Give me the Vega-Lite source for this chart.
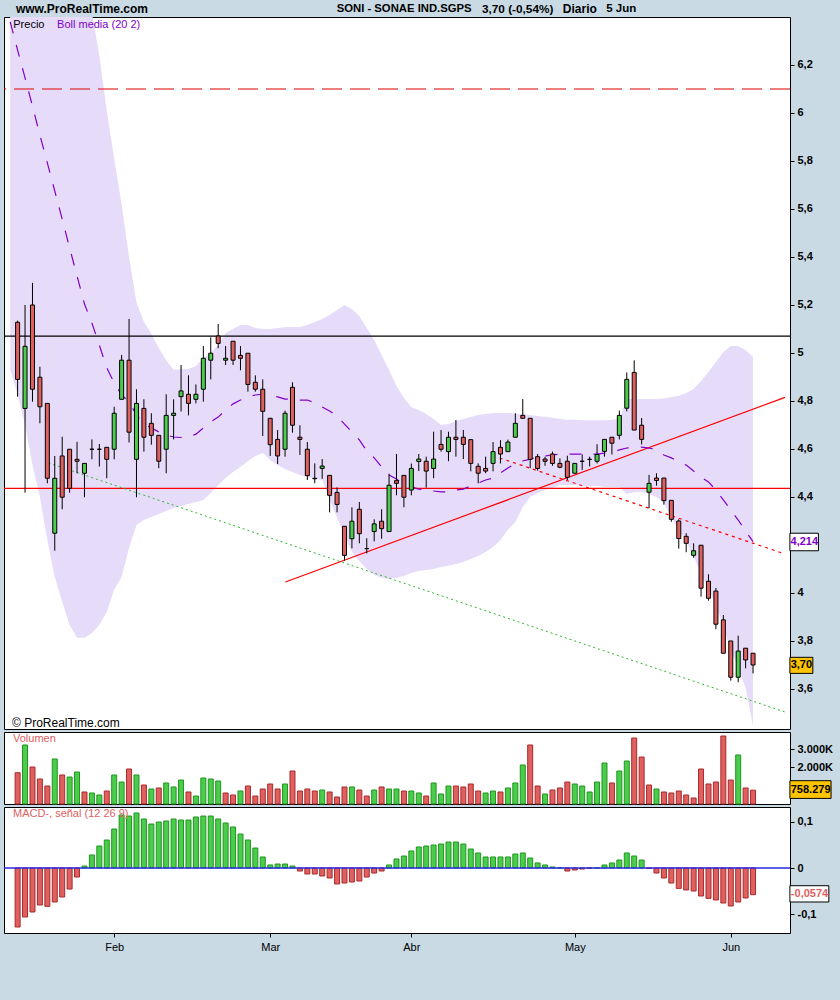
{
"$schema": "https://vega.github.io/schema/vega-lite/v6.json",
"background": "#c9dae4",
"padding": {"left": 2, "top": 2, "right": 8, "bottom": 52},
"spacing": 1,
"config": {
  "view": {"stroke": "#000000", "strokeWidth": 1, "fill": "#ffffff"},
  "axis": {"domain": false, "grid": false, "tickColor": "#000000", "labelColor": "#000000", "labelFont": "Liberation Sans", "labelFontSize": 11, "labelFontWeight": "bold", "tickSize": 4, "labelPadding": 3},
  "text": {"font": "Liberation Sans"}
},
"datasets": {
"bars": [
{"i":0,"o":5.128,"h":5.135,"l":4.818,"c":4.890,"v":1715,"vd":"d","m":-0.1269},
{"i":1,"o":4.769,"h":5.200,"l":4.418,"c":5.028,"v":3233,"vd":"u","m":-0.1054},
{"i":2,"o":5.200,"h":5.292,"l":4.797,"c":4.849,"v":2027,"vd":"d","m":-0.0946},
{"i":3,"o":4.899,"h":4.943,"l":4.707,"c":4.776,"v":1370,"vd":"d","m":-0.0796},
{"i":4,"o":4.790,"h":4.790,"l":4.457,"c":4.478,"v":986,"vd":"d","m":-0.0825},
{"i":5,"o":4.249,"h":4.571,"l":4.176,"c":4.478,"v":2466,"vd":"u","m":-0.0731},
{"i":6,"o":4.571,"h":4.651,"l":4.349,"c":4.399,"v":1589,"vd":"d","m":-0.0624},
{"i":7,"o":4.599,"h":4.599,"l":4.418,"c":4.436,"v":1479,"vd":"u","m":-0.0452},
{"i":8,"o":4.557,"h":4.630,"l":4.499,"c":4.549,"v":1753,"vd":"u","m":-0.0194},
{"i":9,"o":4.499,"h":4.540,"l":4.399,"c":4.540,"v":658,"vd":"d","m":0.0043},
{"i":10,"o":4.599,"h":4.640,"l":4.557,"c":4.599,"v":603,"vd":"u","m":0.0280},
{"i":11,"o":4.599,"h":4.621,"l":4.527,"c":4.599,"v":493,"vd":"u","m":0.0473},
{"i":12,"o":4.607,"h":4.607,"l":4.478,"c":4.557,"v":712,"vd":"d","m":0.0602},
{"i":13,"o":4.599,"h":4.776,"l":4.557,"c":4.749,"v":1589,"vd":"u","m":0.0839},
{"i":14,"o":4.807,"h":4.992,"l":4.807,"c":4.970,"v":1205,"vd":"u","m":0.1140},
{"i":15,"o":4.970,"h":5.142,"l":4.627,"c":4.670,"v":1918,"vd":"d","m":0.1118},
{"i":16,"o":4.557,"h":4.849,"l":4.399,"c":4.790,"v":1589,"vd":"u","m":0.1183},
{"i":17,"o":4.769,"h":4.807,"l":4.589,"c":4.649,"v":1041,"vd":"d","m":0.1054},
{"i":18,"o":4.707,"h":4.749,"l":4.618,"c":4.657,"v":822,"vd":"u","m":0.0946},
{"i":19,"o":4.657,"h":4.657,"l":4.520,"c":4.549,"v":877,"vd":"d","m":0.0989},
{"i":20,"o":4.599,"h":4.828,"l":4.499,"c":4.740,"v":1151,"vd":"u","m":0.1011},
{"i":21,"o":4.740,"h":4.807,"l":4.640,"c":4.749,"v":932,"vd":"u","m":0.1054},
{"i":22,"o":4.818,"h":4.950,"l":4.756,"c":4.842,"v":1315,"vd":"u","m":0.1032},
{"i":23,"o":4.828,"h":4.907,"l":4.740,"c":4.790,"v":658,"vd":"d","m":0.1032},
{"i":24,"o":4.807,"h":4.869,"l":4.790,"c":4.828,"v":438,"vd":"u","m":0.1097},
{"i":25,"o":4.849,"h":5.029,"l":4.797,"c":4.978,"v":1425,"vd":"u","m":0.1118},
{"i":26,"o":4.970,"h":5.065,"l":4.890,"c":4.999,"v":1370,"vd":"u","m":0.1118},
{"i":27,"o":5.071,"h":5.121,"l":5.020,"c":5.040,"v":1260,"vd":"u","m":0.1054},
{"i":28,"o":4.970,"h":5.029,"l":4.950,"c":4.978,"v":603,"vd":"d","m":0.0968},
{"i":29,"o":5.049,"h":5.049,"l":4.950,"c":4.970,"v":493,"vd":"d","m":0.0882},
{"i":30,"o":4.990,"h":5.029,"l":4.928,"c":4.978,"v":712,"vd":"u","m":0.0731},
{"i":31,"o":4.999,"h":4.999,"l":4.839,"c":4.869,"v":986,"vd":"d","m":0.0602},
{"i":32,"o":4.878,"h":4.907,"l":4.839,"c":4.849,"v":438,"vd":"d","m":0.0430},
{"i":33,"o":4.849,"h":4.890,"l":4.654,"c":4.757,"v":822,"vd":"d","m":0.0237},
{"i":34,"o":4.728,"h":4.728,"l":4.571,"c":4.618,"v":1096,"vd":"d","m":0.0065},
{"i":35,"o":4.640,"h":4.679,"l":4.537,"c":4.571,"v":822,"vd":"d","m":0.0086},
{"i":36,"o":4.599,"h":4.760,"l":4.568,"c":4.749,"v":1096,"vd":"u","m":0.0086},
{"i":37,"o":4.857,"h":4.878,"l":4.668,"c":4.699,"v":1808,"vd":"d","m":0.0043},
{"i":38,"o":4.649,"h":4.699,"l":4.575,"c":4.640,"v":712,"vd":"d","m":-0.0065},
{"i":39,"o":4.599,"h":4.629,"l":4.471,"c":4.489,"v":822,"vd":"d","m":-0.0129},
{"i":40,"o":4.478,"h":4.540,"l":4.457,"c":4.476,"v":712,"vd":"d","m":-0.0129},
{"i":41,"o":4.519,"h":4.558,"l":4.476,"c":4.529,"v":767,"vd":"u","m":-0.0172},
{"i":42,"o":4.490,"h":4.490,"l":4.336,"c":4.407,"v":658,"vd":"d","m":-0.0215},
{"i":43,"o":4.419,"h":4.440,"l":4.336,"c":4.369,"v":384,"vd":"d","m":-0.0344},
{"i":44,"o":4.278,"h":4.278,"l":4.135,"c":4.157,"v":932,"vd":"d","m":-0.0323},
{"i":45,"o":4.226,"h":4.357,"l":4.186,"c":4.299,"v":932,"vd":"u","m":-0.0301},
{"i":46,"o":4.349,"h":4.379,"l":4.207,"c":4.247,"v":767,"vd":"d","m":-0.0280},
{"i":47,"o":4.185,"h":4.228,"l":4.165,"c":4.185,"v":438,"vd":"d","m":-0.0194},
{"i":48,"o":4.256,"h":4.307,"l":4.215,"c":4.288,"v":767,"vd":"u","m":-0.0108},
{"i":49,"o":4.299,"h":4.349,"l":4.226,"c":4.268,"v":932,"vd":"d","m":-0.0065},
{"i":50,"o":4.256,"h":4.497,"l":4.256,"c":4.449,"v":822,"vd":"u","m":0.0065},
{"i":51,"o":4.468,"h":4.579,"l":4.407,"c":4.457,"v":822,"vd":"u","m":0.0194},
{"i":52,"o":4.490,"h":4.490,"l":4.357,"c":4.399,"v":712,"vd":"d","m":0.0258},
{"i":53,"o":4.429,"h":4.539,"l":4.407,"c":4.519,"v":712,"vd":"u","m":0.0366},
{"i":54,"o":4.548,"h":4.579,"l":4.508,"c":4.558,"v":603,"vd":"u","m":0.0452},
{"i":55,"o":4.549,"h":4.568,"l":4.439,"c":4.508,"v":438,"vd":"d","m":0.0473},
{"i":56,"o":4.519,"h":4.672,"l":4.478,"c":4.558,"v":1151,"vd":"u","m":0.0495},
{"i":57,"o":4.619,"h":4.679,"l":4.589,"c":4.599,"v":548,"vd":"u","m":0.0516},
{"i":58,"o":4.589,"h":4.672,"l":4.549,"c":4.649,"v":986,"vd":"u","m":0.0559},
{"i":59,"o":4.649,"h":4.721,"l":4.568,"c":4.640,"v":986,"vd":"d","m":0.0559},
{"i":60,"o":4.649,"h":4.679,"l":4.558,"c":4.619,"v":932,"vd":"d","m":0.0516},
{"i":61,"o":4.639,"h":4.639,"l":4.507,"c":4.540,"v":1096,"vd":"d","m":0.0409},
{"i":62,"o":4.528,"h":4.540,"l":4.457,"c":4.499,"v":712,"vd":"d","m":0.0323},
{"i":63,"o":4.519,"h":4.568,"l":4.499,"c":4.508,"v":603,"vd":"u","m":0.0237},
{"i":64,"o":4.540,"h":4.629,"l":4.507,"c":4.589,"v":712,"vd":"u","m":0.0237},
{"i":65,"o":4.607,"h":4.637,"l":4.540,"c":4.579,"v":658,"vd":"d","m":0.0237},
{"i":66,"o":4.589,"h":4.639,"l":4.589,"c":4.629,"v":877,"vd":"u","m":0.0237},
{"i":67,"o":4.649,"h":4.749,"l":4.649,"c":4.707,"v":1151,"vd":"u","m":0.0301},
{"i":68,"o":4.740,"h":4.808,"l":4.728,"c":4.728,"v":2137,"vd":"u","m":0.0323},
{"i":69,"o":4.728,"h":4.728,"l":4.520,"c":4.557,"v":3233,"vd":"d","m":0.0215},
{"i":70,"o":4.568,"h":4.579,"l":4.510,"c":4.519,"v":986,"vd":"d","m":0.0108},
{"i":71,"o":4.558,"h":4.568,"l":4.530,"c":4.549,"v":548,"vd":"u","m":0.0065},
{"i":72,"o":4.579,"h":4.589,"l":4.530,"c":4.540,"v":767,"vd":"d","m":0.0022},
{"i":73,"o":4.540,"h":4.561,"l":4.520,"c":4.524,"v":877,"vd":"d","m":0.0005},
{"i":74,"o":4.549,"h":4.572,"l":4.471,"c":4.482,"v":1205,"vd":"d","m":-0.0065},
{"i":75,"o":4.499,"h":4.540,"l":4.499,"c":4.540,"v":1096,"vd":"u","m":-0.0043},
{"i":76,"o":4.549,"h":4.577,"l":4.513,"c":4.549,"v":986,"vd":"u","m":-0.0022},
{"i":77,"o":4.557,"h":4.568,"l":4.527,"c":4.557,"v":658,"vd":"u","m":-0.0005},
{"i":78,"o":4.549,"h":4.620,"l":4.540,"c":4.577,"v":1205,"vd":"u","m":0.0003},
{"i":79,"o":4.590,"h":4.640,"l":4.568,"c":4.640,"v":2247,"vd":"u","m":0.0065},
{"i":80,"o":4.649,"h":4.649,"l":4.577,"c":4.624,"v":1151,"vd":"d","m":0.0108},
{"i":81,"o":4.657,"h":4.760,"l":4.640,"c":4.740,"v":1808,"vd":"u","m":0.0172},
{"i":82,"o":4.770,"h":4.919,"l":4.757,"c":4.890,"v":2356,"vd":"u","m":0.0323},
{"i":83,"o":4.919,"h":4.969,"l":4.679,"c":4.679,"v":3616,"vd":"d","m":0.0258},
{"i":84,"o":4.699,"h":4.729,"l":4.619,"c":4.640,"v":2575,"vd":"d","m":0.0172},
{"i":85,"o":4.420,"h":4.492,"l":4.353,"c":4.457,"v":1041,"vd":"d","m":-0.0008},
{"i":86,"o":4.479,"h":4.499,"l":4.447,"c":4.469,"v":822,"vd":"u","m":-0.0108},
{"i":87,"o":4.479,"h":4.479,"l":4.368,"c":4.385,"v":658,"vd":"d","m":-0.0215},
{"i":88,"o":4.386,"h":4.386,"l":4.297,"c":4.307,"v":603,"vd":"d","m":-0.0323},
{"i":89,"o":4.300,"h":4.307,"l":4.185,"c":4.227,"v":712,"vd":"d","m":-0.0438},
{"i":90,"o":4.236,"h":4.249,"l":4.170,"c":4.207,"v":493,"vd":"d","m":-0.0473},
{"i":91,"o":4.157,"h":4.207,"l":4.147,"c":4.176,"v":329,"vd":"d","m":-0.0495},
{"i":92,"o":4.199,"h":4.199,"l":3.985,"c":4.020,"v":1918,"vd":"d","m":-0.0602},
{"i":93,"o":4.049,"h":4.078,"l":3.968,"c":3.978,"v":1096,"vd":"d","m":-0.0653},
{"i":94,"o":4.008,"h":4.021,"l":3.849,"c":3.870,"v":1205,"vd":"d","m":-0.0688},
{"i":95,"o":3.888,"h":3.908,"l":3.749,"c":3.749,"v":3726,"vd":"d","m":-0.0753},
{"i":96,"o":3.800,"h":3.800,"l":3.635,"c":3.649,"v":1315,"vd":"d","m":-0.0817},
{"i":97,"o":3.649,"h":3.822,"l":3.628,"c":3.758,"v":2685,"vd":"u","m":-0.0731},
{"i":98,"o":3.770,"h":3.770,"l":3.686,"c":3.721,"v":877,"vd":"d","m":-0.0645},
{"i":99,"o":3.749,"h":3.749,"l":3.665,"c":3.700,"v":758,"vd":"d","m":-0.0574}
],
"band": [
{"i":-1,"u":7.83,"lo":4.93,"mid":6.38},
{"i":0,"u":7.70,"lo":4.825,"mid":6.262},
{"i":1,"u":7.59,"lo":4.70,"mid":6.146},
{"i":2,"u":7.525,"lo":4.533,"mid":6.029},
{"i":3,"u":7.416,"lo":4.40,"mid":5.908},
{"i":4,"u":7.363,"lo":4.221,"mid":5.792},
{"i":5,"u":7.283,"lo":4.067,"mid":5.675},
{"i":6,"u":7.153,"lo":3.963,"mid":5.558},
{"i":7,"u":7.009,"lo":3.867,"mid":5.438},
{"i":8,"u":6.829,"lo":3.813,"mid":5.321},
{"i":9,"u":6.595,"lo":3.813,"mid":5.204},
{"i":10,"u":6.417,"lo":3.833,"mid":5.125},
{"i":11,"u":6.24,"lo":3.867,"mid":5.033},
{"i":12,"u":6.01,"lo":3.921,"mid":4.938},
{"i":13,"u":5.81,"lo":4.013,"mid":4.875},
{"i":14,"u":5.62,"lo":4.067,"mid":4.825},
{"i":15,"u":5.40,"lo":4.188,"mid":4.796},
{"i":16,"u":5.21,"lo":4.283,"mid":4.742},
{"i":17,"u":5.13,"lo":4.304,"mid":4.704},
{"i":18,"u":5.08,"lo":4.317,"mid":4.688},
{"i":19,"u":5.02,"lo":4.329,"mid":4.671},
{"i":20,"u":4.97,"lo":4.342,"mid":4.658},
{"i":21,"u":4.93,"lo":4.354,"mid":4.65},
{"i":22,"u":4.932,"lo":4.363,"mid":4.648},
{"i":23,"u":4.933,"lo":4.371,"mid":4.65},
{"i":24,"u":4.946,"lo":4.379,"mid":4.662},
{"i":25,"u":4.979,"lo":4.388,"mid":4.688},
{"i":26,"u":5.0,"lo":4.417,"mid":4.713},
{"i":27,"u":5.033,"lo":4.45,"mid":4.733},
{"i":28,"u":5.083,"lo":4.479,"mid":4.762},
{"i":29,"u":5.1,"lo":4.504,"mid":4.788},
{"i":30,"u":5.117,"lo":4.525,"mid":4.804},
{"i":31,"u":5.117,"lo":4.55,"mid":4.817},
{"i":32,"u":5.104,"lo":4.571,"mid":4.825},
{"i":33,"u":5.1,"lo":4.583,"mid":4.829},
{"i":34,"u":5.1,"lo":4.554,"mid":4.825},
{"i":35,"u":5.104,"lo":4.533,"mid":4.817},
{"i":36,"u":5.108,"lo":4.517,"mid":4.808},
{"i":37,"u":5.108,"lo":4.504,"mid":4.808},
{"i":38,"u":5.108,"lo":4.492,"mid":4.804},
{"i":39,"u":5.117,"lo":4.483,"mid":4.804},
{"i":40,"u":5.129,"lo":4.475,"mid":4.792},
{"i":41,"u":5.142,"lo":4.471,"mid":4.775},
{"i":42,"u":5.158,"lo":4.388,"mid":4.758},
{"i":43,"u":5.179,"lo":4.313,"mid":4.738},
{"i":44,"u":5.2,"lo":4.242,"mid":4.704},
{"i":45,"u":5.183,"lo":4.171,"mid":4.671},
{"i":46,"u":5.154,"lo":4.133,"mid":4.638},
{"i":47,"u":5.104,"lo":4.1,"mid":4.592},
{"i":48,"u":5.054,"lo":4.075,"mid":4.563},
{"i":49,"u":4.992,"lo":4.063,"mid":4.525},
{"i":50,"u":4.929,"lo":4.058,"mid":4.492},
{"i":51,"u":4.863,"lo":4.063,"mid":4.475},
{"i":52,"u":4.813,"lo":4.071,"mid":4.454},
{"i":53,"u":4.775,"lo":4.083,"mid":4.442},
{"i":54,"u":4.763,"lo":4.092,"mid":4.433},
{"i":55,"u":4.746,"lo":4.096,"mid":4.429},
{"i":56,"u":4.725,"lo":4.1,"mid":4.425},
{"i":57,"u":4.7,"lo":4.108,"mid":4.421},
{"i":58,"u":4.704,"lo":4.113,"mid":4.421},
{"i":59,"u":4.717,"lo":4.121,"mid":4.429},
{"i":60,"u":4.725,"lo":4.129,"mid":4.433},
{"i":61,"u":4.733,"lo":4.142,"mid":4.446},
{"i":62,"u":4.742,"lo":4.154,"mid":4.458},
{"i":63,"u":4.746,"lo":4.171,"mid":4.471},
{"i":64,"u":4.75,"lo":4.192,"mid":4.479},
{"i":65,"u":4.75,"lo":4.221,"mid":4.5},
{"i":66,"u":4.75,"lo":4.263,"mid":4.521},
{"i":67,"u":4.748,"lo":4.296,"mid":4.538},
{"i":68,"u":4.745,"lo":4.358,"mid":4.55},
{"i":69,"u":4.742,"lo":4.4,"mid":4.558},
{"i":70,"u":4.738,"lo":4.417,"mid":4.567},
{"i":71,"u":4.734,"lo":4.429,"mid":4.571},
{"i":72,"u":4.73,"lo":4.438,"mid":4.575},
{"i":73,"u":4.725,"lo":4.45,"mid":4.579},
{"i":74,"u":4.722,"lo":4.45,"mid":4.579},
{"i":75,"u":4.722,"lo":4.45,"mid":4.579},
{"i":76,"u":4.72,"lo":4.446,"mid":4.579},
{"i":77,"u":4.72,"lo":4.446,"mid":4.579},
{"i":78,"u":4.72,"lo":4.446,"mid":4.579},
{"i":79,"u":4.72,"lo":4.442,"mid":4.583},
{"i":80,"u":4.722,"lo":4.442,"mid":4.588},
{"i":81,"u":4.725,"lo":4.442,"mid":4.596},
{"i":82,"u":4.808,"lo":4.413,"mid":4.604},
{"i":83,"u":4.808,"lo":4.421,"mid":4.608},
{"i":84,"u":4.808,"lo":4.421,"mid":4.608},
{"i":85,"u":4.808,"lo":4.413,"mid":4.604},
{"i":86,"u":4.808,"lo":4.4,"mid":4.596},
{"i":87,"u":4.81,"lo":4.375,"mid":4.575},
{"i":88,"u":4.817,"lo":4.313,"mid":4.563},
{"i":89,"u":4.821,"lo":4.263,"mid":4.546},
{"i":90,"u":4.833,"lo":4.213,"mid":4.533},
{"i":91,"u":4.85,"lo":4.15,"mid":4.508},
{"i":92,"u":4.883,"lo":4.083,"mid":4.483},
{"i":93,"u":4.921,"lo":4.013,"mid":4.463},
{"i":94,"u":4.963,"lo":3.95,"mid":4.429},
{"i":95,"u":5.004,"lo":3.858,"mid":4.388},
{"i":96,"u":5.029,"lo":3.763,"mid":4.346},
{"i":97,"u":5.029,"lo":3.688,"mid":4.304},
{"i":98,"u":5.013,"lo":3.604,"mid":4.258},
{"i":99,"u":4.983,"lo":3.445,"mid":4.214}
],
"trend": [
{"t":"up","i":36.05,"p":4.046},
{"t":"up","i":103.3,"p":4.815},
{"t":"dn","i":64.9,"p":4.5625},
{"t":"dn","i":103.3,"p":4.1625},
{"t":"gr","i":4.16,"p":4.542},
{"t":"gr","i":103.3,"p":3.504}
]
},
"vconcat": [
{
"width": 786, "height": 712,
"layer": [
{"data": {"name": "band"}, "mark": {"type": "area", "color": "#e6dcfa", "clip": true},
 "encoding": {
  "x": {"field": "i", "type": "quantitative", "scale": {"domain": [-1.16, 103.3], "nice": false, "zero": false}, "axis": null},
  "y": {"field": "lo", "type": "quantitative", "scale": {"domain": [3.4333, 6.4], "nice": false, "zero": false},
        "axis": {"orient": "right", "title": null, "values": [3.6, 3.8, 4, 4.2, 4.4, 4.6, 4.8, 5, 5.2, 5.4, 5.6, 5.8, 6, 6.2], "labelExpr": "datum.value == 4.2 ? '' : replace(format(datum.value, '.2~f'), '.', ',')"}},
  "y2": {"field": "u"}}},
{"data": {"values": [{}]}, "mark": {"type": "rule", "color": "#000000", "strokeWidth": 1.2},
 "encoding": {"y": {"datum": 5.07, "type": "quantitative"}}},
{"data": {"values": [{}]}, "mark": {"type": "rule", "color": "#ff0000", "strokeWidth": 1.2},
 "encoding": {"y": {"datum": 4.436, "type": "quantitative"}}},
{"data": {"values": [{}]}, "mark": {"type": "rule", "color": "#e00000", "strokeWidth": 1.2, "strokeDash": [20, 8]},
 "encoding": {"y": {"datum": 6.10, "type": "quantitative"}}},
{"data": {"name": "trend"}, "transform": [{"filter": "datum.t == 'gr'"}], "mark": {"type": "line", "color": "#2db82d", "strokeWidth": 1, "strokeDash": [2, 3], "clip": true},
 "encoding": {"x": {"field": "i", "type": "quantitative", "axis": null}, "y": {"field": "p", "type": "quantitative"}}},
{"data": {"name": "trend"}, "transform": [{"filter": "datum.t == 'dn'"}], "mark": {"type": "line", "color": "#ff0000", "strokeWidth": 1.2, "strokeDash": [3, 4], "clip": true},
 "encoding": {"x": {"field": "i", "type": "quantitative", "axis": null}, "y": {"field": "p", "type": "quantitative"}}},
{"data": {"name": "trend"}, "transform": [{"filter": "datum.t == 'up'"}], "mark": {"type": "line", "color": "#ff0000", "strokeWidth": 1.2, "clip": true},
 "encoding": {"x": {"field": "i", "type": "quantitative", "axis": null}, "y": {"field": "p", "type": "quantitative"}}},
{"data": {"name": "band"}, "mark": {"type": "line", "color": "#8000c8", "strokeWidth": 1.2, "strokeDash": [12, 12], "clip": true},
 "encoding": {"x": {"field": "i", "type": "quantitative", "axis": null}, "y": {"field": "mid", "type": "quantitative"}}},
{"data": {"name": "bars"}, "mark": {"type": "rule", "color": "#000000", "strokeWidth": 1},
 "encoding": {"x": {"field": "i", "type": "quantitative", "axis": null}, "y": {"field": "l", "type": "quantitative"}, "y2": {"field": "h"}}},
{"data": {"name": "bars"}, "mark": {"type": "bar", "size": 4, "stroke": "#000000", "strokeWidth": 1},
 "encoding": {"x": {"field": "i", "type": "quantitative", "axis": null}, "y": {"field": "o", "type": "quantitative"}, "y2": {"field": "c"},
  "fill": {"condition": {"test": "datum.c >= datum.o", "value": "#4ccc4c"}, "value": "#e06060"}}},
{"data": {"values": [{}]}, "mark": {"type": "text", "text": "www.ProRealTime.com", "align": "left", "baseline": "middle", "fontSize": 12, "fontWeight": "bold", "color": "#000000"},
 "encoding": {"x": {"datum": -0.226, "type": "quantitative", "axis": null}, "y": {"datum": 6.4333, "type": "quantitative"}}},
{"data": {"values": [{}]}, "mark": {"type": "text", "text": "SONI - SONAE IND.SGPS", "align": "left", "baseline": "middle", "fontSize": 11.3, "fontWeight": "bold", "color": "#000000"},
 "encoding": {"x": {"datum": 42.95, "type": "quantitative", "axis": null}, "y": {"datum": 6.4333, "type": "quantitative"}}},
{"data": {"values": [{}]}, "mark": {"type": "text", "text": "3,70 (-0,54%)", "align": "left", "baseline": "middle", "fontSize": 11.8, "fontWeight": "bold", "color": "#000000"},
 "encoding": {"x": {"datum": 62.5, "type": "quantitative", "axis": null}, "y": {"datum": 6.4333, "type": "quantitative"}}},
{"data": {"values": [{}]}, "mark": {"type": "text", "text": "Diario", "align": "left", "baseline": "middle", "fontSize": 12, "fontWeight": "bold", "color": "#000000"},
 "encoding": {"x": {"datum": 73.39, "type": "quantitative", "axis": null}, "y": {"datum": 6.4333, "type": "quantitative"}}},
{"data": {"values": [{}]}, "mark": {"type": "text", "text": "5 Jun", "align": "left", "baseline": "middle", "fontSize": 11.5, "fontWeight": "bold", "color": "#000000"},
 "encoding": {"x": {"datum": 79.24, "type": "quantitative", "axis": null}, "y": {"datum": 6.4333, "type": "quantitative"}}},
{"data": {"values": [{}]}, "mark": {"type": "text", "text": "Precio", "align": "left", "baseline": "middle", "fontSize": 11, "color": "#000000"},
 "encoding": {"x": {"datum": -0.585, "type": "quantitative", "axis": null}, "y": {"datum": 6.3667, "type": "quantitative"}}},
{"data": {"values": [{}]}, "mark": {"type": "text", "text": "Boll media (20 2)", "align": "left", "baseline": "middle", "fontSize": 11, "color": "#8000c8"},
 "encoding": {"x": {"datum": 5.31, "type": "quantitative", "axis": null}, "y": {"datum": 6.3667, "type": "quantitative"}}},
{"data": {"values": [{}]}, "mark": {"type": "text", "text": "© ProRealTime.com", "align": "left", "baseline": "middle", "fontSize": 12, "color": "#000000"},
 "encoding": {"x": {"datum": -0.757, "type": "quantitative", "axis": null}, "y": {"datum": 3.4583, "type": "quantitative"}}},
{"data": {"values": [{}]}, "mark": {"type": "rect", "fill": "#ffffff", "stroke": "#000000", "strokeWidth": 1},
 "encoding": {"x": {"datum": 103.96, "type": "quantitative", "axis": null}, "x2": {"datum": 107.8}, "y": {"datum": 4.249, "type": "quantitative"}, "y2": {"datum": 4.176}}},
{"data": {"values": [{}]}, "mark": {"type": "text", "text": "4,214", "align": "center", "baseline": "middle", "fontSize": 11, "fontWeight": "bold", "color": "#8000c8"},
 "encoding": {"x": {"datum": 105.9, "type": "quantitative", "axis": null}, "y": {"datum": 4.2125, "type": "quantitative"}}},
{"data": {"values": [{}]}, "mark": {"type": "rect", "fill": "#fec400", "stroke": "#000000", "strokeWidth": 1},
 "encoding": {"x": {"datum": 103.96, "type": "quantitative", "axis": null}, "x2": {"datum": 107.05}, "y": {"datum": 3.732, "type": "quantitative"}, "y2": {"datum": 3.665}}},
{"data": {"values": [{}]}, "mark": {"type": "text", "text": "3,70", "align": "center", "baseline": "middle", "fontSize": 11, "fontWeight": "bold", "color": "#000000"},
 "encoding": {"x": {"datum": 105.5, "type": "quantitative", "axis": null}, "y": {"datum": 3.6985, "type": "quantitative"}}}
]
},
{
"width": 786, "height": 72,
"layer": [
{"data": {"name": "bars"}, "mark": {"type": "bar", "size": 5, "strokeWidth": 1},
 "encoding": {
  "x": {"field": "i", "type": "quantitative", "scale": {"domain": [-1.16, 103.3], "nice": false, "zero": false}, "axis": null},
  "y": {"field": "v", "type": "quantitative", "scale": {"domain": [0, 3945], "nice": false},
        "axis": {"orient": "right", "title": null, "values": [2000, 3000], "labelExpr": "format(datum.value / 1000, 'd') + '.000K'"}},
  "fill": {"condition": {"test": "datum.vd == 'u'", "value": "#4ccc4c"}, "value": "#e06060"},
  "stroke": {"condition": {"test": "datum.vd == 'u'", "value": "#1e961e"}, "value": "#a62a2a"}}},
{"data": {"values": [{}]}, "mark": {"type": "text", "text": "Volumen", "align": "left", "baseline": "middle", "fontSize": 11, "color": "#e06060"},
 "encoding": {"x": {"datum": -0.625, "type": "quantitative", "axis": null}, "y": {"datum": 3578, "type": "quantitative"}}},
{"data": {"values": [{}]}, "mark": {"type": "rect", "fill": "#fec400", "stroke": "#000000", "strokeWidth": 1},
 "encoding": {"x": {"datum": 103.96, "type": "quantitative", "axis": null}, "x2": {"datum": 109.5}, "y": {"datum": 1277, "type": "quantitative"}, "y2": {"datum": 307}}},
{"data": {"values": [{}]}, "mark": {"type": "text", "text": "758.279", "align": "center", "baseline": "middle", "fontSize": 11, "fontWeight": "bold", "color": "#000000"},
 "encoding": {"x": {"datum": 106.75, "type": "quantitative", "axis": null}, "y": {"datum": 792, "type": "quantitative"}}}
]
},
{
"width": 786, "height": 126,
"layer": [
{"data": {"name": "bars"}, "mark": {"type": "bar", "size": 5, "strokeWidth": 1},
 "encoding": {
  "x": {"field": "i", "type": "quantitative", "scale": {"domain": [-1.16, 103.3], "nice": false, "zero": false},
        "axis": {"orient": "bottom", "title": null, "values": [13, 34, 53, 75, 96], "labelExpr": "['Feb','Mar','Abr','May','Jun'][indexof([13,34,53,75,96], datum.value)]", "labelFontWeight": "normal", "labelPadding": 4}},
  "y": {"field": "m", "type": "quantitative", "scale": {"domain": [-0.1398, 0.1312], "nice": false, "zero": false},
        "axis": {"orient": "right", "title": null, "values": [-0.1, -0.05, 0, 0.05, 0.1], "labelExpr": "datum.value == -0.05 ? '' : (datum.value < 0 ? '-' : '') + replace(format(abs(datum.value), '.2~f'), '.', ',')"}},
  "y2": {"datum": 0},
  "fill": {"condition": {"test": "datum.m >= 0", "value": "#4ccc4c"}, "value": "#e06060"},
  "stroke": {"condition": {"test": "datum.m >= 0", "value": "#1e961e"}, "value": "#a62a2a"}}},
{"data": {"values": [{}]}, "mark": {"type": "rule", "color": "#2828e0", "strokeWidth": 1.3},
 "encoding": {"y": {"datum": 0, "type": "quantitative"}}},
{"data": {"values": [{}]}, "mark": {"type": "text", "text": "MACD-, señal (12 26 9)", "align": "left", "baseline": "middle", "fontSize": 11, "color": "#e06060"},
 "encoding": {"x": {"datum": -0.625, "type": "quantitative"}, "y": {"datum": 0.116, "type": "quantitative"}}},
{"data": {"values": [{}]}, "mark": {"type": "rect", "fill": "#ffffff", "stroke": "#000000", "strokeWidth": 1},
 "encoding": {"x": {"datum": 103.96, "type": "quantitative"}, "x2": {"datum": 109.2}, "y": {"datum": -0.0381, "type": "quantitative"}, "y2": {"datum": -0.0731}}},
{"data": {"values": [{}]}, "mark": {"type": "text", "text": "-0,0574", "align": "center", "baseline": "middle", "fontSize": 11, "fontWeight": "bold", "color": "#e06060"},
 "encoding": {"x": {"datum": 106.6, "type": "quantitative"}, "y": {"datum": -0.0556, "type": "quantitative"}}}
]
}
]
}
